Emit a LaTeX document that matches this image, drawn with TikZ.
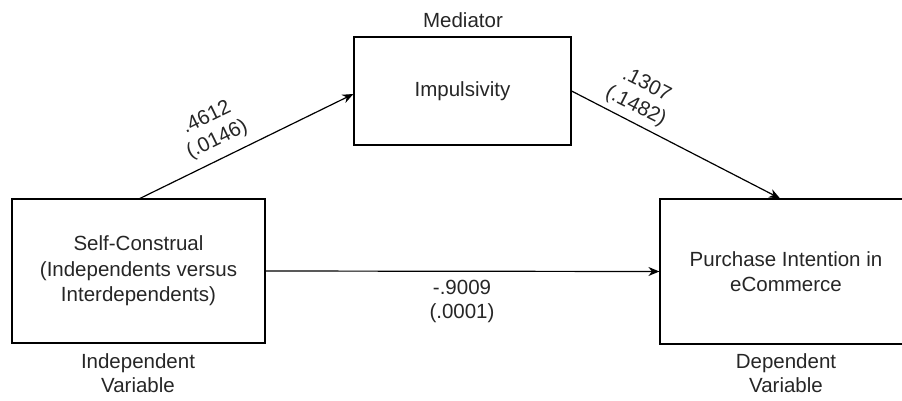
\documentclass[tikz,border=0pt]{standalone}
\usepackage{fontspec}
\setmainfont{Liberation Sans}
\usetikzlibrary{arrows.meta}
\tikzset{
  boxnode/.style={draw=black, line width=1.2pt, inner sep=0pt, align=center,
    font=\fontsize{20.5pt}{25.5pt}\selectfont, text=black!85},
  lbl/.style={align=center, inner sep=0pt, font=\fontsize{20.5pt}{24pt}\selectfont, text=black!85},
  conn/.style={line width=1.2pt, -{Stealth[length=11pt,width=9pt]}}
}
\begin{document}
\begin{tikzpicture}[x=1pt,y=-1pt]
\useasboundingbox (0,0) rectangle (902,400);
\clip (0,0) rectangle (902,400);
\node[boxnode, minimum width=253pt, minimum height=144pt] (L) at (138.5,271) {Self-Construal\\(Independents versus\\Interdependents)};
\node[boxnode, minimum width=217pt, minimum height=108pt] (M) at (462.5,91) {Impulsivity};
\node[boxnode, minimum width=252pt, minimum height=145pt] (R) at (786,271.5) {Purchase Intention in\\eCommerce};
\node[lbl] (medl) at (463,20) {Mediator};
\node[lbl] (indl) at (138,373.5) {Independent\\Variable};
\node[lbl] (depl) at (786,373.5) {Dependent\\Variable};
\draw[conn] ([xshift=1.5pt]L.north) -- ([yshift=-3pt]M.west);
\draw[conn] (M.east) -- ([xshift=-6pt]R.north);
\draw[conn] (L.east) -- (R.west);
\node[lbl, rotate=26] (e1) at (212,129) {.4612\\(.0146)};
\node[lbl, rotate=-27] (e2) at (641,96) {.1307\\(.1482)};
\node[lbl] (e3) at (462,301.5) {-.9009\\(.0001)};
\end{tikzpicture}
\end{document}
